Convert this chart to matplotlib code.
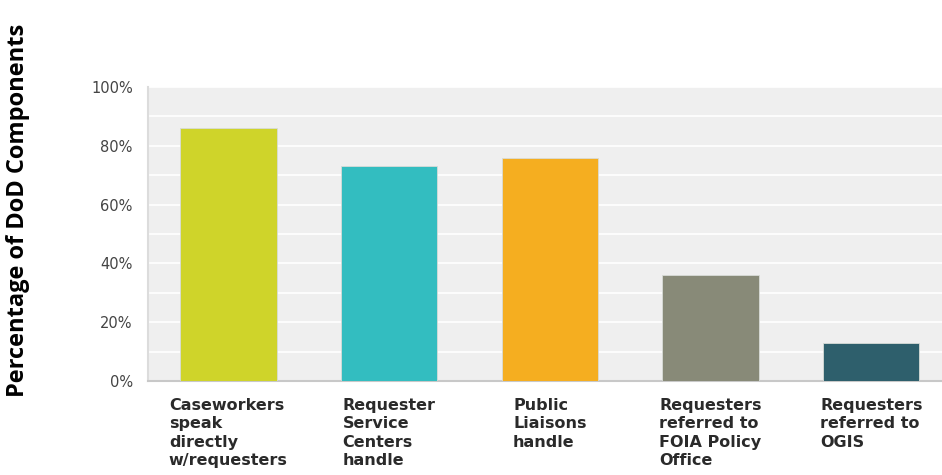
import matplotlib
matplotlib.use("Agg")
import matplotlib.pyplot as plt
from matplotlib.ticker import MultipleLocator, FuncFormatter

categories = ["Caseworkers\nspeak\ndirectly\nw/requesters",
              "Requester\nService\nCenters\nhandle",
              "Public\nLiaisons\nhandle",
              "Requesters\nreferred to\nFOIA Policy\nOffice",
              "Requesters\nreferred to\nOGIS"]
values = [86, 73, 76, 36, 13]
colors = ["#cfd42a", "#33bdc0", "#f5ae20", "#888a78", "#2e5f6c"]
yticks = [0, 20, 40, 60, 80, 100]

fig = plt.figure(figsize=(9.42, 4.75), dpi=100)
ax = fig.add_axes([148/942, 94/475, (942-148)/942, (381-87)/475])
ax.set_facecolor("#efefef")
x = list(range(len(values)))
ax.bar(x, values, width=0.6, color=colors, edgecolor="#d8dcd8", linewidth=0.6, zorder=3)
ax.set_xlim(-0.5, 4.44)
ax.set_ylim(0, 100)
ax.yaxis.set_minor_locator(MultipleLocator(10))
ax.set_yticks(yticks)
ax.yaxis.set_major_formatter(FuncFormatter(lambda v, p: f"{int(v)}%"))
ax.grid(True, which="both", axis="y", color="white", linewidth=1.2, zorder=1)
for s in ["top", "right"]:
    ax.spines[s].set_visible(False)
ax.spines["left"].set_color("#dcdcdc")
ax.spines["bottom"].set_color("#c8c8c8")
ax.spines["left"].set_linewidth(1.5)
ax.spines["bottom"].set_linewidth(1.5)
ax.tick_params(axis="y", which="both", length=0, pad=11, labelsize=10.5, labelcolor="#444444")
for lbl in ax.get_yticklabels():
    lbl.set_family(["DejaVu Sans"])
ax.tick_params(axis="x", length=0, pad=12)
ax.set_xticks(x)
ax.set_xticklabels(categories, fontsize=11.5, fontweight="bold", color="#2a2a2a",
                   family=["DejaVu Sans"],
                   ha="center", va="top", multialignment="left", linespacing=1.3)
fig.text(18/942, (475-210)/475, "Percentage of DoD Components", rotation=90, ha="center",
         va="center", fontsize=17, fontweight="bold", family=["Open Sans", "DejaVu Sans"])
fig.savefig("out.png", dpi=100)
